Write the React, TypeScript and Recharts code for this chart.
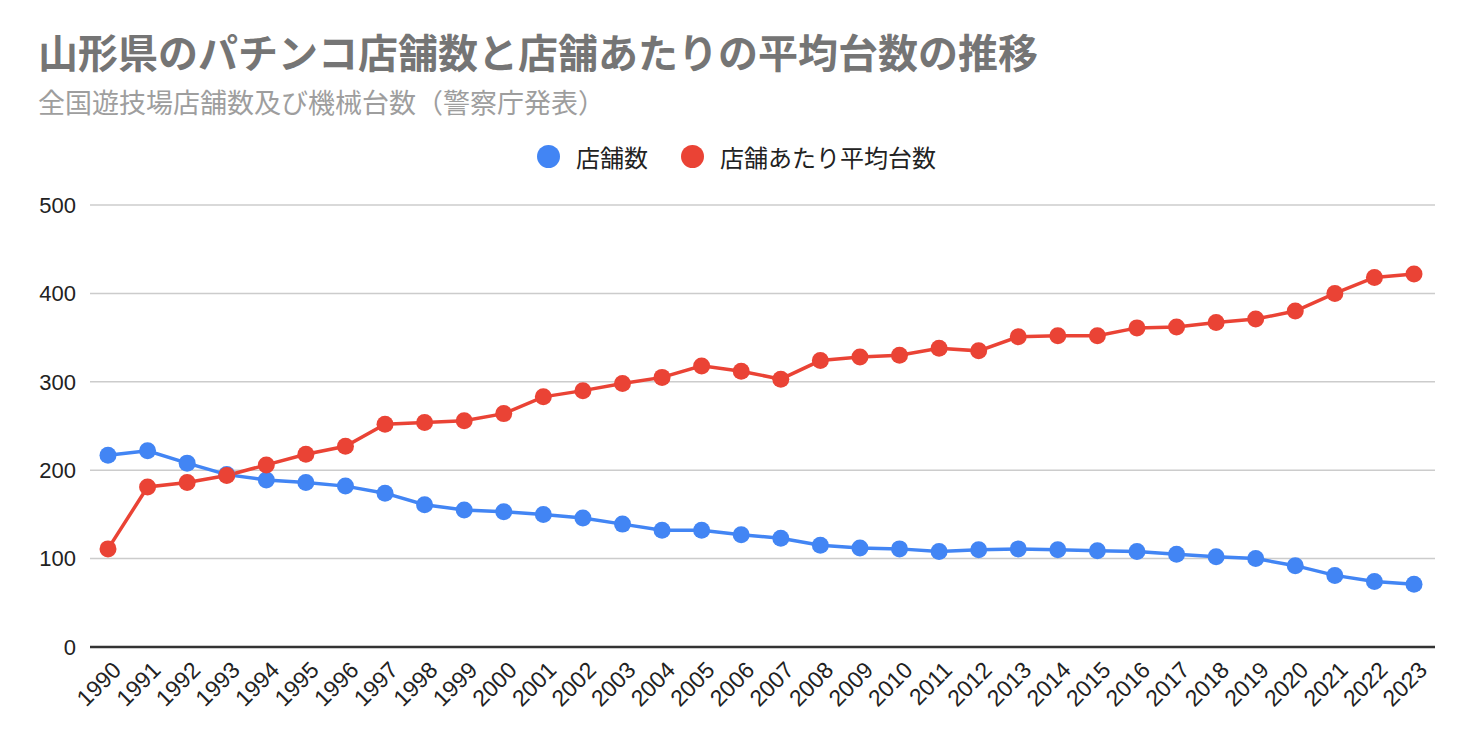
import React from "react";
import { LineChart, Line, XAxis, YAxis, CartesianGrid } from "recharts";

const years = [
  "1990", "1991", "1992", "1993", "1994", "1995", "1996", "1997", "1998", "1999",
  "2000", "2001", "2002", "2003", "2004", "2005", "2006", "2007", "2008", "2009",
  "2010", "2011", "2012", "2013", "2014", "2015", "2016", "2017", "2018", "2019",
  "2020", "2021", "2022", "2023",
];

// 店舗数
const storeCounts = [
  217, 222, 208, 195, 189, 186, 182, 174, 161, 155,
  153, 150, 146, 139, 132, 132, 127, 123, 115, 112,
  111, 108, 110, 111, 110, 109, 108, 105, 102, 100,
  92, 81, 74, 71,
];

// 店舗あたり平均台数
const avgMachines = [
  111, 181, 186, 194, 206, 218, 227, 252, 254, 256,
  264, 283, 290, 298, 305, 318, 312, 303, 324, 328,
  330, 338, 335, 351, 352, 352, 361, 362, 367, 371,
  380, 400, 418, 422,
];

const yTicks = [0, 100, 200, 300, 400, 500];

const BLUE = "#4285F4";
const RED = "#EA4335";

const data = years.map((year, i) => ({
  year,
  stores: storeCounts[i],
  avg: avgMachines[i],
}));

const fontStack = "Roboto, Arial, 'Noto Sans CJK JP', sans-serif";
const tickFont = "Arial, 'Liberation Sans', 'Noto Sans CJK JP', sans-serif";

const dot = (color: string) => (
  <span
    style={{
      display: "inline-block",
      width: 23,
      height: 23,
      borderRadius: 12,
      background: color,
      marginRight: 16,
    }}
  />
);

export default function App() {
  return (
    <div
      style={{
        position: "fixed",
        top: 0,
        left: 0,
        width: 1472,
        height: 742,
        background: "#fff",
        fontFamily: fontStack,
      }}
    >
      <div
        style={{
          position: "absolute",
          left: 38,
          top: 32,
          fontSize: 40,
          fontWeight: "bold",
          color: "#757575",
          lineHeight: "46px",
          whiteSpace: "nowrap",
        }}
      >
        山形県のパチンコ店舗数と店舗あたりの平均台数の推移
      </div>
      <div
        style={{
          position: "absolute",
          left: 38,
          top: 88,
          fontSize: 27,
          color: "#9e9e9e",
          lineHeight: "32px",
          whiteSpace: "nowrap",
        }}
      >
        全国遊技場店舗数及び機械台数（警察庁発表）
      </div>
      <div
        style={{
          position: "absolute",
          top: 139,
          left: 537,
          display: "flex",
          alignItems: "center",
          fontSize: 24,
          color: "#222",
          whiteSpace: "nowrap",
        }}
      >
        <span style={{ display: "flex", alignItems: "center", marginRight: 33 }}>
          {dot(BLUE)}
          店舗数
        </span>
        <span style={{ display: "flex", alignItems: "center" }}>
          {dot(RED)}
          店舗あたり平均台数
        </span>
      </div>
      <div style={{ position: "absolute", top: 0, left: 0 }}>
        <LineChart
          width={1472}
          height={742}
          data={data}
          margin={{ top: 205, right: 37, bottom: 0, left: 0 }}
        >
          <CartesianGrid vertical={false} stroke="#cccccc" strokeWidth={1.5} />
          <XAxis
            dataKey="year"
            height={95}
            interval={0}
            padding={{ left: 18, right: 21 }}
            stroke="#333"
            strokeWidth={2.5}
            tickLine={false}
            tickMargin={7}
            angle={-45}
            textAnchor="end"
            tick={{ fill: "#222", fontSize: 23, fontFamily: tickFont, dx: 3 }}
          />
          <YAxis
            width={90}
            domain={[0, 500]}
            ticks={yTicks}
            axisLine={false}
            tickLine={false}
            tickSize={6}
            tickMargin={8}
            tick={{ fill: "#222", fontSize: 22, fontFamily: tickFont }}
          />
          <Line
            dataKey="stores"
            stroke={BLUE}
            strokeWidth={3.5}
            dot={{ r: 8.5, fill: BLUE, stroke: BLUE, strokeWidth: 0 }}
            isAnimationActive={false}
          />
          <Line
            dataKey="avg"
            stroke={RED}
            strokeWidth={3.5}
            dot={{ r: 8.5, fill: RED, stroke: RED, strokeWidth: 0 }}
            isAnimationActive={false}
          />
        </LineChart>
      </div>
    </div>
  );
}
